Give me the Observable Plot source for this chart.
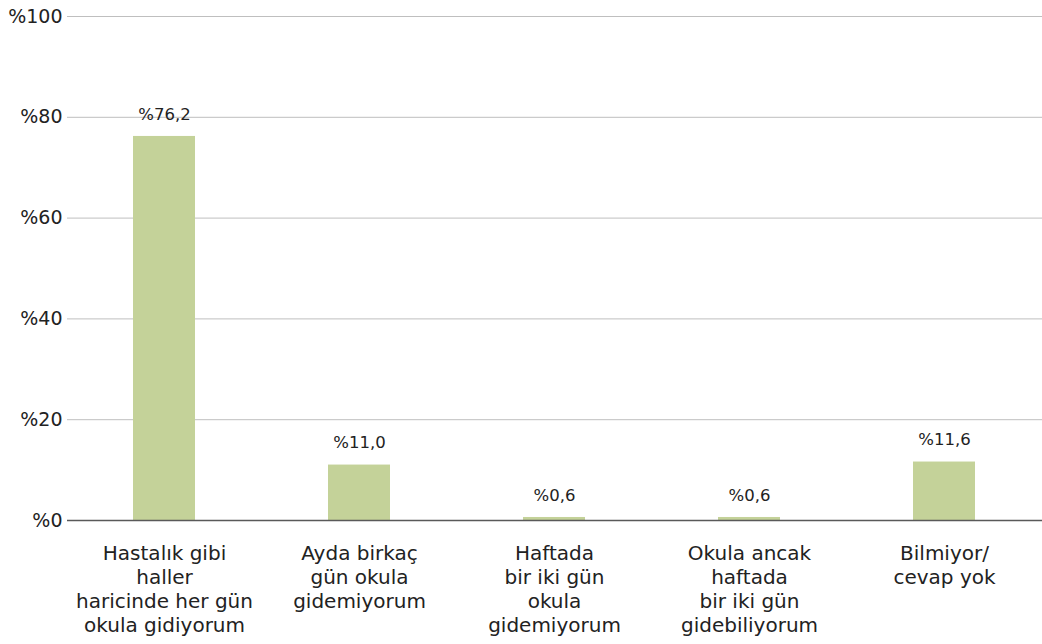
<!DOCTYPE html>
<html>
<head>
<meta charset="utf-8">
<script src="https://cdn.jsdelivr.net/npm/d3@7"></script>
<script src="https://cdn.jsdelivr.net/npm/@observablehq/plot@0.6"></script>
<style>
  html, body { margin: 0; padding: 0; background: #fff; }
  #chart svg { font-family: "DejaVu Sans", sans-serif; }
</style>
</head>
<body>
<div id="chart"></div>
<script>
const categories = [
  "Hastalık gibi\nhaller\nharicinde her gün\nokula gidiyorum",
  "Ayda birkaç\ngün okula\ngidemiyorum",
  "Haftada\nbir iki gün\nokula\ngidemiyorum",
  "Okula ancak\nhaftada\nbir iki gün\ngidebiliyorum",
  "Bilmiyor/\ncevap yok"
];
const values = [76.2, 11.0, 0.6, 0.6, 11.6];
const yTicks = [0, 20, 40, 60, 80, 100];

const data = categories.map((c, i) => ({category: c, value: values[i]}));
const fmt = v => "%" + v.toFixed(1).replace(".", ",");

const chart = Plot.plot({
  width: 1042,
  height: 644,
  marginTop: 16,
  marginLeft: 67,
  marginRight: 0,
  marginBottom: 124,
  style: {fontFamily: "DejaVu Sans, sans-serif", color: "#222", background: "#fff"},
  x: {domain: categories, paddingInner: 0.68, paddingOuter: 0.34, align: 0.5, label: null},
  y: {domain: [0, 100], label: null},
  marks: [
    Plot.ruleY(yTicks.filter(t => t > 0), {stroke: "#bfbfbf", strokeWidth: 1}),
    Plot.barY(data, {x: "category", y: "value", fill: "#c4d299"}),
    Plot.ruleY([0], {stroke: "#595959", strokeWidth: 1.3}),
    Plot.text(data, {x: "category", y: "value", text: d => fmt(d.value), dy: -22, fontSize: 16.5, fill: "#222"}),
    Plot.axisY({ticks: yTicks, tickSize: 0, tickPadding: 5, tickFormat: d => "%" + d, fontSize: 19, fill: "#222", label: null}),
    Plot.axisX({tickSize: 0, tickPadding: 22, fontSize: 20, lineHeight: 1.2, fill: "#222", label: null, textAnchor: "middle", lineAnchor: "top"})
  ]
});
document.getElementById("chart").appendChild(chart);
</script>
</body>
</html>
